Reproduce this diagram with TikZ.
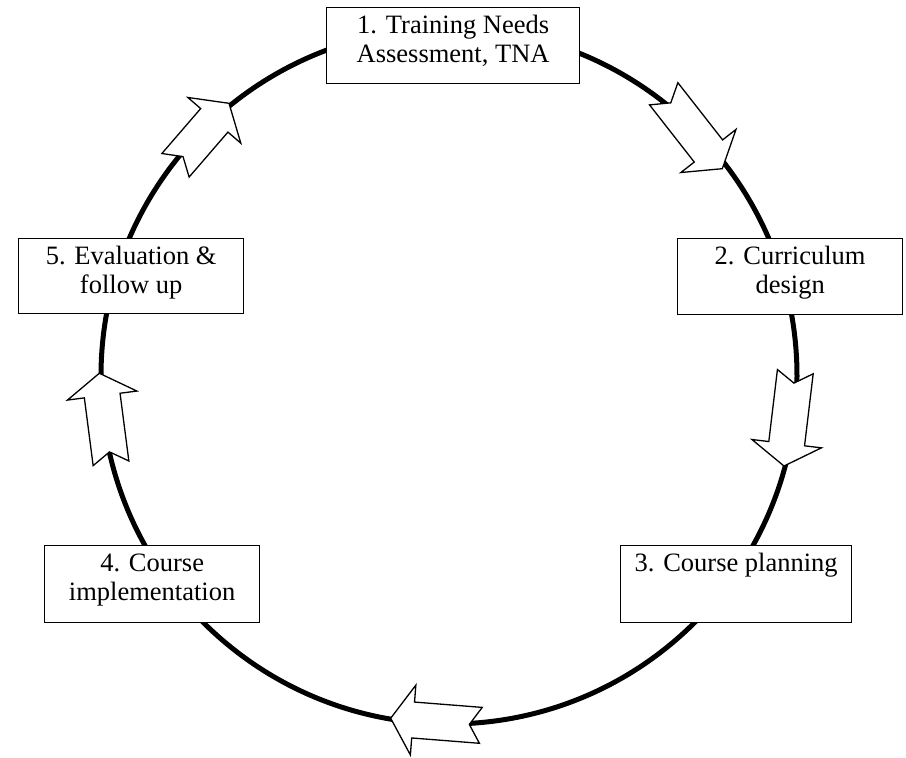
\documentclass[tikz,border=0pt]{standalone}
\usepackage{fontspec}
\setmainfont{Liberation Serif}
\newcommand\stagetext[3]{\parbox[c][#2pt][t]{#1pt}{\centering\fontsize{26.5}{29.5}\selectfont\rule{0pt}{25.5pt}#3}}
\newcommand\blockarrow[3]{%
  \begin{scope}[shift={#1}, rotate=#2]
    \filldraw[arrowshape] (0,18) -- ({#3-22.5},18) -- ({#3-22.5},35) -- (#3,0)
      -- ({#3-22.5},-35) -- ({#3-22.5},-18) -- (0,-18) -- (11.5,0) -- cycle;
  \end{scope}}
\tikzset{
  stagebox/.style={draw=black, fill=white, line width=1.3pt, inner sep=0pt, anchor=north west},
  ring/.style={draw=black, line width=5pt},
  arrowshape/.style={draw=black, fill=white, line width=1.3pt, line join=miter}
}
\begin{document}
\begin{tikzpicture}[x=1pt,y=1pt]
\useasboundingbox (0,0) rectangle (906,758);
\fill[white] (0,0) rectangle (906,758);
\draw[ring] (449,382) circle (348);
\blockarrow{(663.7,664.2)}{-51.96}{95.1}
\blockarrow{(795.3,386.3)}{-96.83}{95}
\blockarrow{(480.8,32.65)}{175.5}{90.4}
\blockarrow{(111,294.7)}{97.4}{90.8}
\blockarrow{(175.5,592.7)}{49.2}{81.9}
\node[stagebox] (s1) at (326,751) {\stagetext{253}{76}{1. Training Needs\\Assessment, TNA}};
\node[stagebox] (s2) at (677,520) {\stagetext{225}{76}{2. Curriculum\\design}};
\node[stagebox] (s3) at (620,213) {\stagetext{231}{77}{3. Course planning}};
\node[stagebox] (s4) at (44,213) {\stagetext{215}{77}{4. Course\\implementation}};
\node[stagebox] (s5) at (18,520) {\stagetext{225}{75}{5. Evaluation \&\\follow up}};
\end{tikzpicture}
\end{document}
